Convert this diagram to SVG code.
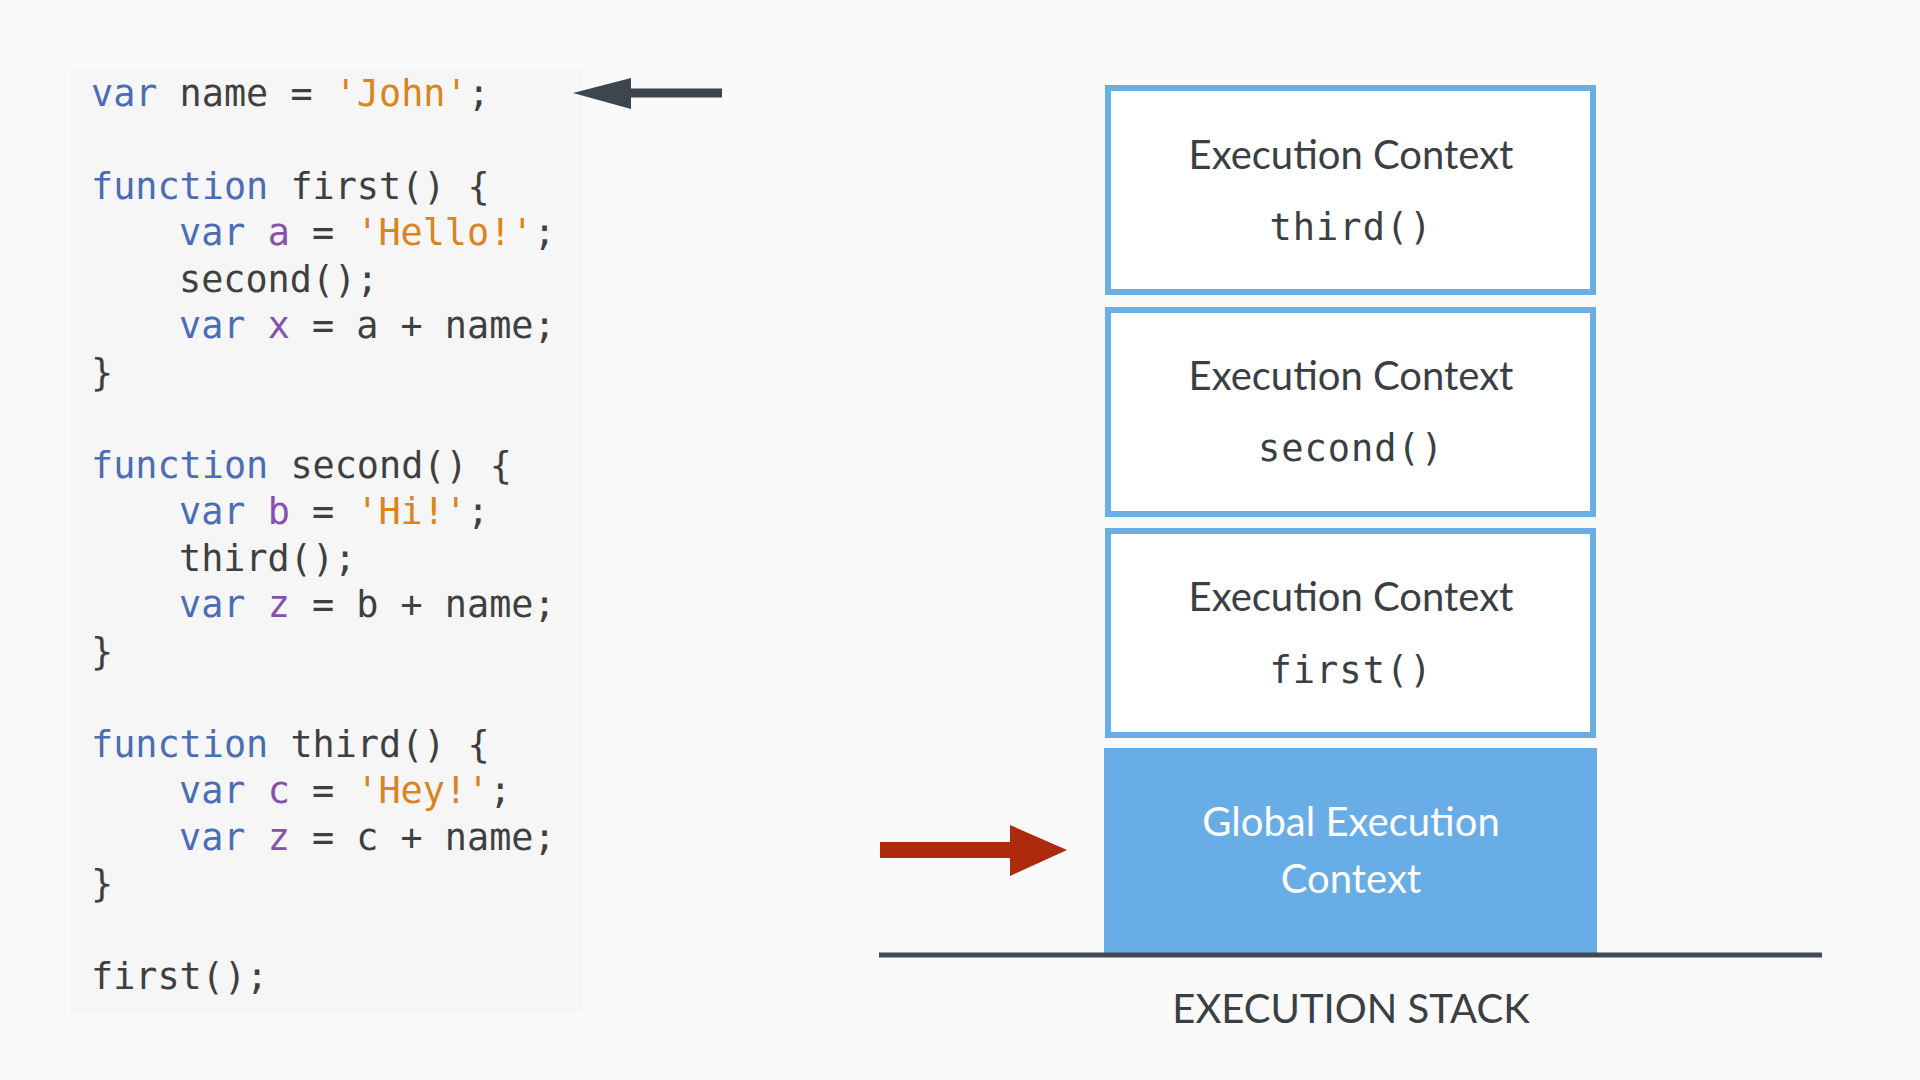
<svg xmlns="http://www.w3.org/2000/svg" width="1920" height="1080" viewBox="0 0 1920 1080">
<style>
.code{font-family:"DejaVu Sans Mono","Liberation Mono",monospace;font-size:36.8px;fill:#3f3f3f;white-space:pre}
.kw{fill:#4a6db5}
.v{fill:#8650ad}
.s{fill:#db831d}
.ec{font-family:Lato,"Open Sans",sans-serif;font-size:40px;fill:#3a3f44;text-anchor:middle}
.fn{font-family:"DejaVu Sans Mono","Liberation Mono",monospace;font-size:37px;fill:#3a3f44;text-anchor:middle;letter-spacing:1px}
.box{fill:#ffffff;stroke:#6aaee6;stroke-width:6}
</style>
<rect x="0" y="0" width="1920" height="1080" fill="#fafafa"/>
<g id="code">
<rect x="71" y="67" width="512" height="947" fill="#f6f6f6"/>
<text class="code" x="91" y="106"><tspan class="kw">var</tspan> name = <tspan class="s">'John'</tspan>;</text>
<text class="code" x="91" y="199"><tspan class="kw">function</tspan> first() {</text>
<text class="code" x="179" y="245"><tspan class="kw">var</tspan> <tspan class="v">a</tspan> = <tspan class="s">'Hello!'</tspan>;</text>
<text class="code" x="179" y="292">second();</text>
<text class="code" x="179" y="338"><tspan class="kw">var</tspan> <tspan class="v">x</tspan> = a + name;</text>
<text class="code" x="91" y="385">}</text>
<text class="code" x="91" y="478"><tspan class="kw">function</tspan> second() {</text>
<text class="code" x="179" y="524"><tspan class="kw">var</tspan> <tspan class="v">b</tspan> = <tspan class="s">'Hi!'</tspan>;</text>
<text class="code" x="179" y="571">third();</text>
<text class="code" x="179" y="617"><tspan class="kw">var</tspan> <tspan class="v">z</tspan> = b + name;</text>
<text class="code" x="91" y="664">}</text>
<text class="code" x="91" y="757"><tspan class="kw">function</tspan> third() {</text>
<text class="code" x="179" y="803"><tspan class="kw">var</tspan> <tspan class="v">c</tspan> = <tspan class="s">'Hey!'</tspan>;</text>
<text class="code" x="179" y="850"><tspan class="kw">var</tspan> <tspan class="v">z</tspan> = c + name;</text>
<text class="code" x="91" y="896">}</text>
<text class="code" x="91" y="989">first();</text>
</g>
<g id="ec-third">
<rect class="box" x="1108" y="88" width="485" height="204"/>
<text class="ec" x="1351" y="169">Execution Context</text>
<text class="fn" x="1351" y="240">third()</text>
</g>
<g id="ec-second">
<rect class="box" x="1108" y="310" width="485" height="204"/>
<text class="ec" x="1351" y="390">Execution Context</text>
<text class="fn" x="1351" y="461">second()</text>
</g>
<g id="ec-first">
<rect class="box" x="1108" y="531" width="485" height="204"/>
<text class="ec" x="1351" y="611">Execution Context</text>
<text class="fn" x="1351" y="683">first()</text>
</g>
<g id="global">
<rect x="1104" y="748" width="493" height="206" fill="#68ade6"/>
<text class="ec" x="1351" y="836" style="fill:#ffffff">Global Execution</text>
<text class="ec" x="1351" y="893" style="fill:#ffffff">Context</text>
</g>
<g id="stack-label">
<text x="1351" y="1023" style="font-family:Lato,'Open Sans',sans-serif;font-size:40px;fill:#3a3f44;text-anchor:middle">EXECUTION STACK</text>
</g>
<g id="connectors">
<line x1="879" y1="955" x2="1822" y2="955" stroke="#434a52" stroke-width="5"/>
<line x1="722" y1="93" x2="628" y2="93" stroke="#3d454d" stroke-width="9"/>
<polygon points="573,93 631,78 631,109" fill="#3d454d"/>
<line x1="880" y1="850" x2="1012" y2="850" stroke="#ad2a0c" stroke-width="16"/>
<polygon points="1067,850 1010,825 1010,876" fill="#ad2a0c"/>
</g>
</svg>
